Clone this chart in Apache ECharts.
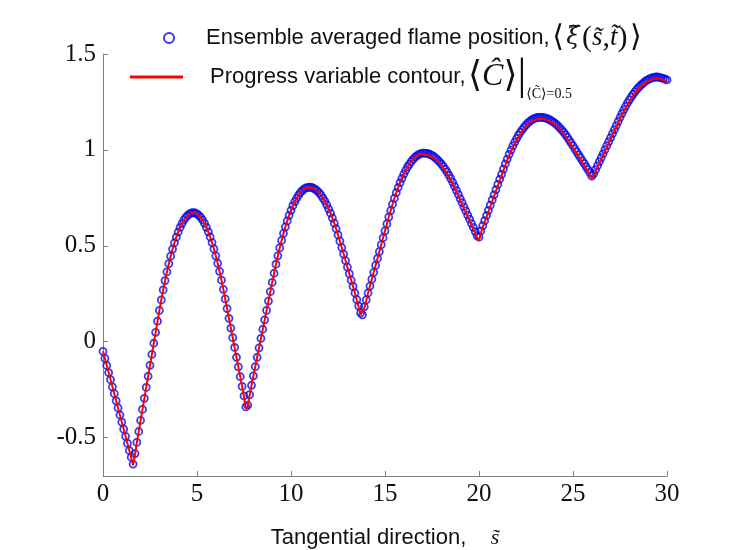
<!DOCTYPE html>
<html>
<head>
<meta charset="utf-8">
<script src="https://cdn.jsdelivr.net/npm/echarts@6/dist/echarts.min.js"></script>
<style>
html,body{margin:0;padding:0;background:#fff;}
#chart{width:733px;height:550px;}
</style>
</head>
<body>
<div id="chart"></div>
<script>
// Tangential direction s (sample positions)
const sValues = [
0,0.1,0.2,0.3,0.4,0.5,0.6,0.7,0.8,0.9,
1,1.1,1.2,1.3,1.4,1.5,1.6,1.7,1.8,1.9,
2,2.1,2.2,2.3,2.4,2.5,2.6,2.7,2.8,2.9,
3,3.1,3.2,3.3,3.4,3.5,3.6,3.7,3.8,3.9,
4,4.1,4.2,4.3,4.4,4.5,4.6,4.7,4.8,4.9,
5,5.1,5.2,5.3,5.4,5.5,5.6,5.7,5.8,5.9,
6,6.1,6.2,6.3,6.4,6.5,6.6,6.7,6.8,6.9,
7,7.1,7.2,7.3,7.4,7.5,7.6,7.7,7.8,7.9,
8,8.1,8.2,8.3,8.4,8.5,8.6,8.7,8.8,8.9,
9,9.1,9.2,9.3,9.4,9.5,9.6,9.7,9.8,9.9,
10,10.1,10.2,10.3,10.4,10.5,10.6,10.7,10.8,10.9,
11,11.1,11.2,11.3,11.4,11.5,11.6,11.7,11.8,11.9,
12,12.1,12.2,12.3,12.4,12.5,12.6,12.7,12.8,12.9,
13,13.1,13.2,13.3,13.4,13.5,13.6,13.7,13.8,13.9,
14,14.1,14.2,14.3,14.4,14.5,14.6,14.7,14.8,14.9,
15,15.1,15.2,15.3,15.4,15.5,15.6,15.7,15.8,15.9,
16,16.1,16.2,16.3,16.4,16.5,16.6,16.7,16.8,16.9,
17,17.1,17.2,17.3,17.4,17.5,17.6,17.7,17.8,17.9,
18,18.1,18.2,18.3,18.4,18.5,18.6,18.7,18.8,18.9,
19,19.1,19.2,19.3,19.4,19.5,19.6,19.7,19.8,19.9,
20,20.1,20.2,20.3,20.4,20.5,20.6,20.7,20.8,20.9,
21,21.1,21.2,21.3,21.4,21.5,21.6,21.7,21.8,21.9,
22,22.1,22.2,22.3,22.4,22.5,22.6,22.7,22.8,22.9,
23,23.1,23.2,23.3,23.4,23.5,23.6,23.7,23.8,23.9,
24,24.1,24.2,24.3,24.4,24.5,24.6,24.7,24.8,24.9,
25,25.1,25.2,25.3,25.4,25.5,25.6,25.7,25.8,25.9,
26,26.1,26.2,26.3,26.4,26.5,26.6,26.7,26.8,26.9,
27,27.1,27.2,27.3,27.4,27.5,27.6,27.7,27.8,27.9,
28,28.1,28.2,28.3,28.4,28.5,28.6,28.7,28.8,28.9,
29,29.1,29.2,29.3,29.4,29.5,29.6,29.7,29.8,29.9,
30
];

// Ensemble averaged flame position <xi(s,t)> (blue circles)
const ensembleXi = [
-0.050,-0.087,-0.124,-0.161,-0.198,-0.235,-0.271,-0.308,-0.345,-0.382,
-0.419,-0.456,-0.493,-0.530,-0.567,-0.602,-0.638,-0.583,-0.525,-0.468,
-0.410,-0.353,-0.295,-0.238,-0.180,-0.123,-0.066,-0.008,0.049,0.107,
0.163,0.218,0.270,0.319,0.364,0.407,0.446,0.483,0.516,0.545,
0.572,0.596,0.616,0.634,0.648,0.659,0.667,0.671,0.673,0.671,
0.667,0.659,0.648,0.634,0.617,0.596,0.573,0.546,0.517,0.484,
0.448,0.409,0.367,0.321,0.273,0.223,0.173,0.122,0.071,0.021,
-0.030,-0.081,-0.131,-0.182,-0.233,-0.283,-0.340,-0.330,-0.276,-0.227,
-0.178,-0.130,-0.081,-0.032,0.017,0.065,0.114,0.163,0.212,0.261,
0.309,0.357,0.404,0.448,0.489,0.528,0.565,0.599,0.630,0.659,
0.685,0.709,0.730,0.748,0.764,0.778,0.788,0.797,0.802,0.805,
0.806,0.804,0.800,0.794,0.786,0.776,0.764,0.749,0.733,0.714,
0.693,0.670,0.645,0.618,0.589,0.557,0.524,0.491,0.457,0.423,
0.389,0.355,0.321,0.288,0.254,0.220,0.186,0.150,0.140,0.182,
0.218,0.254,0.290,0.326,0.362,0.398,0.434,0.470,0.506,0.542,
0.578,0.614,0.650,0.684,0.717,0.748,0.777,0.804,0.829,0.852,
0.874,0.893,0.911,0.926,0.940,0.952,0.962,0.970,0.976,0.980,
0.983,0.983,0.982,0.980,0.976,0.971,0.965,0.957,0.948,0.938,
0.927,0.914,0.900,0.885,0.868,0.850,0.831,0.810,0.789,0.768,
0.746,0.725,0.703,0.682,0.660,0.639,0.617,0.596,0.574,0.553,
0.545,0.578,0.605,0.631,0.658,0.685,0.712,0.739,0.766,0.793,
0.820,0.847,0.873,0.900,0.927,0.952,0.977,0.999,1.021,1.041,
1.059,1.077,1.092,1.106,1.119,1.131,1.141,1.149,1.156,1.162,
1.166,1.169,1.170,1.170,1.169,1.167,1.164,1.160,1.155,1.149,
1.142,1.134,1.125,1.115,1.104,1.093,1.080,1.066,1.051,1.036,
1.021,1.005,0.990,0.974,0.959,0.943,0.928,0.912,0.897,0.881,
0.863,0.876,0.897,0.918,0.939,0.959,0.980,1.001,1.022,1.043,
1.064,1.085,1.106,1.127,1.148,1.169,1.189,1.209,1.227,1.245,
1.261,1.276,1.291,1.304,1.316,1.327,1.337,1.346,1.354,1.361,
1.367,1.372,1.375,1.378,1.380,1.380,1.378,1.376,1.373,1.369,
1.365
];

// Progress variable contour <C>|_{<C>=0.5} (red line)
const contourC = [
-0.050,-0.087,-0.124,-0.161,-0.198,-0.235,-0.271,-0.308,-0.345,-0.382,
-0.419,-0.456,-0.493,-0.530,-0.567,-0.606,-0.645,-0.588,-0.525,-0.468,
-0.410,-0.353,-0.295,-0.238,-0.180,-0.123,-0.066,-0.008,0.049,0.107,
0.163,0.218,0.270,0.319,0.364,0.407,0.446,0.483,0.516,0.545,
0.572,0.596,0.616,0.634,0.648,0.659,0.667,0.671,0.673,0.671,
0.667,0.659,0.648,0.634,0.617,0.596,0.573,0.546,0.517,0.484,
0.448,0.409,0.367,0.321,0.273,0.223,0.173,0.122,0.071,0.021,
-0.030,-0.081,-0.131,-0.182,-0.233,-0.288,-0.350,-0.338,-0.280,-0.227,
-0.178,-0.130,-0.081,-0.032,0.017,0.065,0.114,0.163,0.212,0.261,
0.309,0.357,0.404,0.448,0.489,0.528,0.565,0.599,0.630,0.659,
0.685,0.709,0.730,0.748,0.764,0.778,0.788,0.797,0.802,0.805,
0.806,0.804,0.800,0.794,0.786,0.776,0.764,0.749,0.733,0.714,
0.693,0.670,0.645,0.618,0.589,0.557,0.524,0.491,0.457,0.423,
0.389,0.355,0.321,0.288,0.254,0.216,0.180,0.140,0.130,0.176,
0.214,0.254,0.290,0.326,0.362,0.398,0.434,0.470,0.506,0.542,
0.578,0.614,0.650,0.684,0.717,0.748,0.777,0.804,0.829,0.852,
0.874,0.893,0.911,0.926,0.940,0.952,0.962,0.970,0.976,0.980,
0.975,0.975,0.974,0.972,0.968,0.963,0.957,0.949,0.940,0.930,
0.919,0.906,0.892,0.877,0.860,0.842,0.823,0.802,0.781,0.760,
0.738,0.717,0.695,0.674,0.652,0.631,0.609,0.587,0.565,0.542,
0.530,0.566,0.596,0.623,0.650,0.677,0.704,0.731,0.758,0.785,
0.812,0.839,0.865,0.892,0.919,0.944,0.969,0.991,1.013,1.033,
1.051,1.069,1.084,1.098,1.111,1.123,1.133,1.141,1.148,1.154,
1.158,1.161,1.162,1.162,1.161,1.159,1.156,1.152,1.147,1.141,
1.134,1.126,1.117,1.107,1.096,1.085,1.072,1.058,1.043,1.028,
1.013,0.997,0.982,0.966,0.951,0.935,0.920,0.904,0.888,0.870,
0.848,0.864,0.888,0.910,0.931,0.951,0.972,0.993,1.014,1.035,
1.056,1.077,1.098,1.119,1.140,1.161,1.181,1.201,1.219,1.237,
1.253,1.268,1.283,1.296,1.308,1.319,1.329,1.338,1.346,1.353,
1.359,1.364,1.367,1.370,1.372,1.372,1.370,1.368,1.365,1.361,
1.357
];

const xTickValues = [0, 5, 10, 15, 20, 25, 30];
const yTickValues = [-0.5, 0, 0.5, 1, 1.5];

const seriesNames = ['Ensemble averaged flame position', 'Progress variable contour'];

const serif = "'Liberation Serif','DejaVu Serif',serif";
const dejaSerif = "'DejaVu Serif','Liberation Serif',serif";
const sans = "'Liberation Sans','Noto Sans',sans-serif";

const chart = echarts.init(document.getElementById('chart'), null, {renderer: 'canvas'});

const mathRich = {
  t: {fontFamily: sans, fontSize: 22, color: '#111'},
  b: {fontFamily: serif, fontSize: 30, color: '#111'},
  sp: {fontFamily: serif, fontSize: 10, color: '#111'},
  mi: {fontFamily: serif, fontStyle: 'italic', fontSize: 27, color: '#111'},
  mg: {fontFamily: dejaSerif, fontStyle: 'italic', fontSize: 24, color: '#111'},
  bb: {fontFamily: serif, fontSize: 36, color: '#111'},
  mc: {fontFamily: serif, fontStyle: 'italic', fontSize: 32, color: '#111'},
  bar: {fontFamily: serif, fontSize: 44, color: '#111'},
  sub: {fontFamily: serif, fontSize: 14, color: '#111', verticalAlign: 'bottom', padding: [34, 0, 0, 0]}
};

const option = {
  animation: false,
  backgroundColor: '#ffffff',
  grid: {left: 103, right: 66, top: 54, bottom: 74, containLabel: false, outerBoundsMode: 'none'},
  legend: [
    {
      data: [{name: seriesNames[0], icon: 'circle'}],
      left: 158, top: 18,
      itemWidth: 10, itemHeight: 11,
      selectedMode: false,
      formatter: () => '{t|Ensemble averaged flame position,}{sp| }{b|⟨}{sp| }{mg|ξ̃}{sp| }{b|(}{mi|s̃}{b|,}{mi|t̃}{b|)}{sp| }{b|⟩}',
      textStyle: {padding: [0, 0, 0, 27], rich: mathRich}
    },
    {
      data: [{name: seriesNames[1], icon: 'rect'}],
      left: 125, top: 50,
      itemWidth: 53, itemHeight: 3,
      selectedMode: false,
      formatter: () => '{t|Progress variable contour,}{sp| }{bb|⟨}{mc|Ĉ}{bb|⟩}{bar||}{sub|⟨C̃⟩=0.5}',
      textStyle: {padding: [0, 0, 0, 22], rich: mathRich}
    }
  ],
  xAxis: {
    type: 'value', min: 0, max: 30, interval: 5,
    name: '{t|Tangential direction,}{t|    }{mi|s̃}',
    nameLocation: 'middle', nameGap: 51,
    nameTextStyle: {rich: {t: {fontFamily: sans, fontSize: 22, color: '#111'}, mi: {fontFamily: serif, fontStyle: 'italic', fontSize: 22, color: '#111'}}},
    axisLine: {onZero: false, lineStyle: {color: '#808080', width: 1}},
    axisTick: {inside: true, length: 5, lineStyle: {color: '#808080'}},
    axisLabel: {
      fontFamily: serif, fontSize: 25, color: '#111', margin: 6,
      formatter: v => xTickValues.includes(v) ? String(v) : ''
    },
    splitLine: {show: false}
  },
  yAxis: {
    type: 'value', min: -0.7, max: 1.5, splitNumber: 4,
    axisLine: {show: true, onZero: false, lineStyle: {color: '#808080', width: 1}},
    axisTick: {show: true, inside: true, length: 5, lineStyle: {color: '#808080'}},
    axisLabel: {
      fontFamily: serif, fontSize: 25, color: '#111', margin: 7, showMinLabel: false,
      formatter: v => yTickValues.some(t => Math.abs(t - v) < 1e-9) ? String(Math.round(v * 10) / 10) : ''
    },
    splitLine: {show: false}
  },
  series: [
    {
      name: seriesNames[0],
      type: 'scatter',
      symbol: 'circle',
      symbolSize: 7,
      itemStyle: {color: 'rgba(0,0,0,0)', borderColor: '#0a0ae8', borderWidth: 1.8},
      data: sValues.map((s, i) => [s, ensembleXi[i]]),
      z: 2
    },
    {
      name: seriesNames[1],
      type: 'line',
      symbol: 'none',
      showSymbol: false,
      lineStyle: {color: '#ff0000', width: 2},
      itemStyle: {color: '#ff0000'},
      data: sValues.map((s, i) => [s, contourC[i]]),
      z: 3
    }
  ]
};
chart.setOption(option);
</script>
</body>
</html>
